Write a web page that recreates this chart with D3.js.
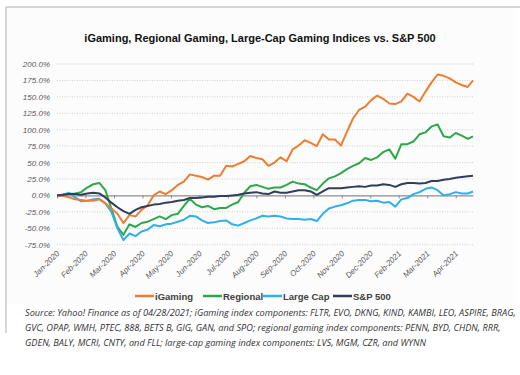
<!DOCTYPE html>
<html>
<head>
<meta charset="utf-8">
<script src="https://cdn.jsdelivr.net/npm/d3@7"></script>
<style>
  body { margin: 0; background: #fff; }
  svg { display: block; }
</style>
</head>
<body>
<svg id="chart" width="520" height="375"></svg>
<script>
// weekly samples, Jan 2 2020 + 7 days each, last point Apr 28 2021
const startDate = new Date(2020, 0, 2);
const endDate = new Date(2021, 3, 28);

const iGaming = [0, -1, -3, -6, -7, -8, -8, -6, -12, -20, -28, -42, -30, -32, -22, -15, 0, 6, 2, 8,
  16, 21, 32, 30, 28, 24, 30, 30, 45, 44, 48, 52, 60, 57, 55, 45, 50, 58, 52, 70,
  76, 84, 80, 75, 93, 85, 85, 76, 97, 117, 130, 135, 145, 152, 147, 140, 139, 143, 155, 150,
  143, 158, 172, 184, 182, 178, 172, 168, 165, 175];
const regional = [0, 1, 2, 3, 5, 12, 17, 19, 8, -20, -48, -60, -44, -48, -42, -40, -36, -32, -36, -30,
  -28, -16, -5, -14, -18, -16, -21, -19, -19, -14, -10, 4, 14, 16, 13, 10, 12, 12, 16, 21,
  18, 17, 12, 8, 18, 26, 29, 34, 40, 45, 49, 57, 54, 58, 66, 70, 56, 78, 78, 82,
  93, 96, 105, 108, 90, 88, 95, 91, 86, 90];
const largeCap = [0, 1, 4, -3, -9, -8, -6, -5, -12, -25, -50, -68, -58, -62, -55, -52, -45, -47, -44, -43,
  -40, -37, -31, -32, -38, -42, -41, -39, -38, -44, -46, -42, -38, -35, -31, -32, -31, -32, -35, -36,
  -36, -37, -36, -39, -28, -20, -17, -15, -12, -8, -7, -7, -9, -8, -11, -10, -17, -6, -4, 2,
  5, 10, 12, 8, 0, 2, 5, 3, 3, 6];
const sp500 = [0, 1, 2, 2, 1, 3, 4, 3, -3, -11, -18, -24, -28, -22, -18, -16, -14, -13, -11, -10,
  -8, -7, -4, -4, -3, -2, -2, -1, -1, 0, 1, 3, 4, 5, 3, 2, 6, 4, 4, 6,
  8, 8, 6, 1, 6, 11, 11, 11, 12, 13, 14, 13, 15, 15, 17, 16, 13, 17, 19, 19,
  18, 19, 22, 22, 24, 25, 27, 28, 29, 30];

const seriesNames = ["iGaming", "Regional", "Large Cap", "S&P 500"];
const seriesColors = ["#ed7d31", "#2ca84a", "#2fb0e6", "#323d5c"];
const yTicks = [200, 175, 150, 125, 100, 75, 50, 25, 0, -25, -50, -75];
// axis labels fall every 33 days from the first trading day
const xTickDays = [0, 33, 66, 99, 132, 165, 198, 231, 264, 297, 330, 363, 396, 429, 462];

const title = "iGaming, Regional Gaming, Large-Cap Gaming Indices vs. S&P 500";
const caption = [
  "Source: Yahoo! Finance as of 04/28/2021; iGaming index components: FLTR, EVO, DKNG, KIND, KAMBI, LEO, ASPIRE, BRAG,",
  "GVC, OPAP, WMH, PTEC, 888, BETS B, GIG, GAN, and SPO; regional gaming index components: PENN, BYD, CHDN, RRR,",
  "GDEN, BALY, MCRI, CNTY, and FLL; large-cap gaming index components: LVS, MGM, CZR, and WYNN"
];

const dates = iGaming.map((d, i) => i === iGaming.length - 1 ? endDate : d3.timeDay.offset(startDate, i * 7));
const allSeries = [iGaming, regional, largeCap, sp500];

const svg = d3.select("#chart");

// card frame
svg.append("rect").attr("x", 6).attr("y", 7).attr("width", 510).attr("height", 297).attr("fill", "#fcfcfc");
svg.append("line").attr("x1", 6).attr("x2", 520).attr("y1", 7).attr("y2", 7)
  .attr("stroke", "#c9c9c9").attr("stroke-width", 1.5);
svg.append("line").attr("x1", 6).attr("x2", 6).attr("y1", 7).attr("y2", 333)
  .attr("stroke", "#c9c9c9").attr("stroke-width", 1.5);

svg.append("text")
  .attr("x", 260).attr("y", 42)
  .attr("text-anchor", "middle")
  .style("font-family", "Liberation Sans, Arial, sans-serif")
  .style("font-weight", "bold")
  .style("font-size", "11px")
  .style("fill", "#111")
  .text(title);

const x = d3.scaleTime().domain([startDate, endDate]).range([57, 473]);
const y = d3.scaleLinear().domain([-75, 200]).range([244.7, 64]);

// dotted gridlines
svg.append("g").selectAll("line")
  .data(yTicks.filter(v => v !== 0))
  .enter().append("line")
  .attr("x1", 57).attr("x2", 473)
  .attr("y1", d => y(d)).attr("y2", d => y(d))
  .attr("stroke", "#c4c4c4")
  .attr("stroke-width", 0.8)
  .attr("stroke-dasharray", "1,1.5");

// y labels
svg.append("g").selectAll("text")
  .data(yTicks)
  .enter().append("text")
  .attr("x", 50).attr("y", d => y(d) + 3)
  .attr("text-anchor", "end")
  .style("font-family", "Liberation Sans, Arial, sans-serif")
  .style("font-size", "8px")
  .style("font-style", "italic")
  .style("fill", "#595959")
  .text(d => d.toFixed(1) + "%");

// zero axis with ticks
const tickDates = xTickDays.map(n => d3.timeDay.offset(startDate, n));
const xAxis = svg.append("g")
  .attr("transform", `translate(0,${y(0)})`)
  .call(d3.axisBottom(x).tickValues(tickDates).tickSize(3).tickSizeOuter(0).tickFormat(""));
xAxis.select(".domain").attr("stroke", "#8c8c8c").attr("stroke-width", 1.3);
xAxis.selectAll(".tick line").attr("stroke", "#8c8c8c");

// rotated date labels
const fmt = d3.timeFormat("%b-%Y");
svg.append("g").selectAll("text")
  .data(tickDates)
  .enter().append("text")
  .attr("transform", d => `translate(${x(d) + 3},${254}) rotate(-45)`)
  .attr("text-anchor", "end")
  .style("font-family", "Liberation Sans, Arial, sans-serif")
  .style("font-size", "8px")
  .style("font-style", "italic")
  .style("fill", "#595959")
  .text(d => fmt(d));

const line = d3.line()
  .x((d, i) => x(dates[i]))
  .y(d => y(d));

// draw S&P last so it sits on top like the reference
[1, 2, 0, 3].forEach(i => {
  svg.append("path")
    .datum(allSeries[i])
    .attr("d", line)
    .attr("fill", "none")
    .attr("stroke", seriesColors[i])
    .attr("stroke-width", 2)
    .attr("stroke-linejoin", "round");
});

// legend
const legendX = [135, 203, 263, 333];
const legend = svg.append("g").selectAll("g")
  .data(seriesNames)
  .enter().append("g")
  .attr("transform", (d, i) => `translate(${legendX[i]},296)`);
legend.append("line")
  .attr("x1", 0).attr("x2", 19)
  .attr("stroke", (d, i) => seriesColors[i])
  .attr("stroke-width", 2.5);
legend.append("text")
  .attr("x", 20).attr("y", 3.5)
  .style("font-family", "Liberation Sans, Arial, sans-serif")
  .style("font-weight", "bold")
  .style("font-size", "9.5px")
  .style("fill", "#404040")
  .text(d => d);

// source caption
svg.append("g").selectAll("text")
  .data(caption)
  .enter().append("text")
  .attr("x", 25).attr("y", (d, i) => 316 + i * 15)
  .style("font-family", "Open Sans, sans-serif")
  .style("font-style", "italic")
  .style("font-size", "9.2px")
  .style("fill", "#333")
  .text(d => d);
</script>
</body>
</html>
